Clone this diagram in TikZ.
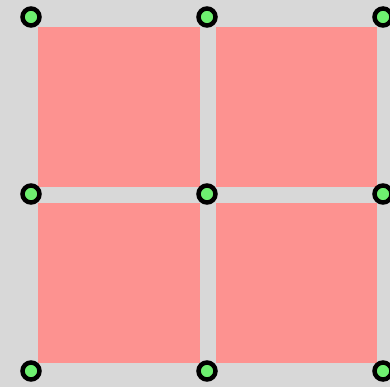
\documentclass[tikz,border=0pt]{standalone}
\usepackage{tikz}
\definecolor{bggray}{RGB}{216,216,216}
\definecolor{tilepink}{RGB}{253,146,144}
\definecolor{dotgreen}{RGB}{110,240,112}
\begin{document}
\begin{tikzpicture}[x=1pt,y=-1pt,
  tile/.style={fill=tilepink,draw=none,inner sep=0,minimum width=162pt,minimum height=160pt},
  pin/.style={circle,fill=dotgreen,draw=black,line width=4.5pt,inner sep=0,minimum size=17pt}]
\fill[bggray] (0,0) rectangle (390,387);
\useasboundingbox (0,0) rectangle (390,387);
\node[tile] (tl) at (119,107) {};
\node[tile,minimum width=161pt] (tr) at (296.5,107) {};
\node[tile] (bl) at (119,283) {};
\node[tile,minimum width=161pt] (br) at (296.5,283) {};
\foreach \px/\cx in {31/a,207/b,383/c}{
  \foreach \py/\ry in {17/1,194/2,371/3}{
    \node[pin] (p\cx\ry) at (\px,\py) {};
  }
}
\end{tikzpicture}
\end{document}
